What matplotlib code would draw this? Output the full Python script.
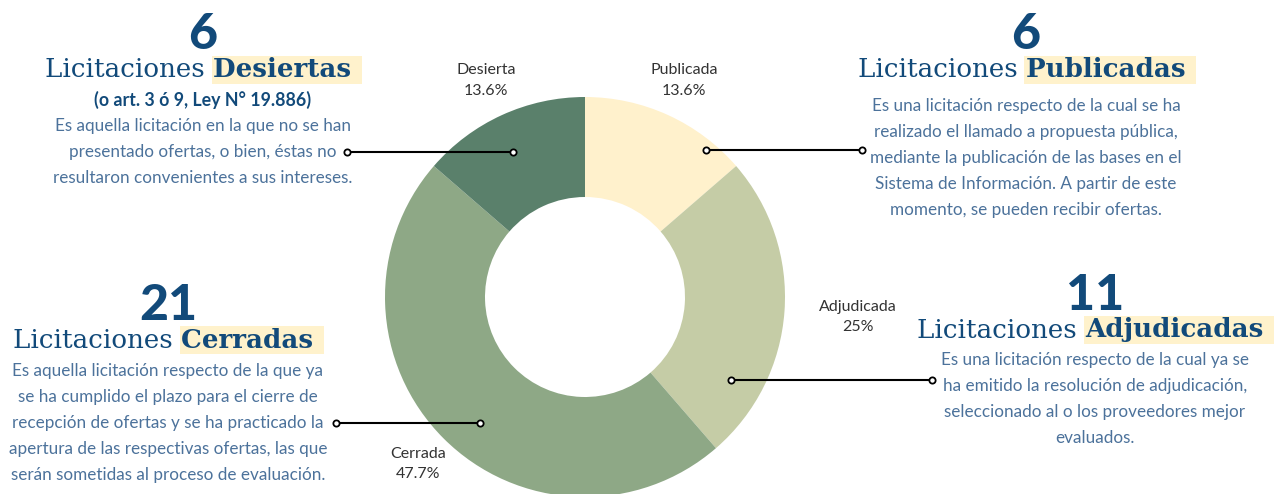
import numpy as np
import matplotlib
matplotlib.use("Agg")
import matplotlib.pyplot as plt

# data
states = ["Publicada", "Adjudicada", "Cerrada", "Desierta"]
counts = [6, 11, 21, 6]
pcts = ["13.6%", "25%", "47.7%", "13.6%"]
colors = ["#FFF1CC", "#C5CCA6", "#8EA886", "#5A806B"]

titles = ["Publicadas", "Adjudicadas", "Cerradas", "Desiertas"]
subtitles = ["", "", "", "(o art. 3 ó 9, Ley N° 19.886)"]
descs = [
    "Es una licitación respecto de la cual se ha\nrealizado el llamado a propuesta pública,\nmediante la publicación de las bases en el\nSistema de Información. A partir de este\nmomento, se pueden recibir ofertas.",
    "Es una licitación respecto de la cual ya se\nha emitido la resolución de adjudicación,\nseleccionado al o los proveedores mejor\nevaluados.",
    "Es aquella licitación respecto de la que ya\nse ha cumplido el plazo para el cierre de\nrecepción de ofertas y se ha practicado la\napertura de las respectivas ofertas, las que\nserán sometidas al proceso de evaluación.",
    "Es aquella licitación en la que no se han\npresentado ofertas, o bien, éstas no\nresultaron convenientes a sus intereses.",
]

W, H = 1276, 494
DARK = "#124A7A"
LIGHT = "#4C729B"

fig = plt.figure(figsize=(W / 100, H / 100), dpi=100)
ax = fig.add_axes([0, 0, 1, 1])

cx, cy, R = 585, H - 297, 200
wedges, _ = ax.pie(counts, colors=colors, startangle=90, counterclock=False,
                   radius=R, center=(cx, cy), wedgeprops=dict(width=R * 0.5, linewidth=0))
ax.set_xlim(0, W)
ax.set_ylim(0, H)
ax.set_aspect("equal")
ax.axis("off")

# slice labels
label_dist = [1.19, 1.37, 1.18, 1.19]
for w, name, p, d in zip(wedges, states, pcts, label_dist):
    a = np.deg2rad((w.theta1 + w.theta2) / 2)
    ax.text(cx + R * d * np.cos(a), cy + R * d * np.sin(a), name + "\n" + p,
            ha="center", va="center", fontsize=11.5, color="#333333",
            family="Lato", linespacing=1.55)

# leader lines (pixel layout)
leaders = [((706, 150), (862, 150)), ((731, 380), (932, 380)),
           ((480, 423), (336, 423)), ((513, 152), (347, 152))]
for (x0, y0), (x1, y1) in leaders:
    ax.plot([x0, x1], [H - y0, H - y1], color="black", lw=1.5, marker="o",
            ms=4.5, mfc="white", mec="black", mew=1.3)

# text blocks: (center x, number y, title y, first desc line y)
blocks = [(1026, 35, 70, 106), (1095, 296, 330, 360),
          (168, 305, 340, 371), (203, 35, 70, 126)]
renderer = fig.canvas.get_renderer()
for (bx, ny, ty, dy), n, t, s, desc in zip(blocks, counts, titles, subtitles, descs):
    ax.text(bx, H - ny, str(n), ha="center", va="center", fontsize=36,
            fontweight="black", family="Lato", color=DARK)
    t1 = ax.text(0, H - ty, "Licitaciones ", ha="left", va="center",
                 fontsize=18.8, family="DejaVu Serif", color=DARK)
    t2 = ax.text(0, H - ty, t + " ", ha="left", va="center", fontsize=18.8,
                 family="DejaVu Serif", fontweight="bold", color=DARK,
                 bbox=dict(boxstyle="square,pad=0.05", fc="#FFF2CC", ec="none"))
    w1 = t1.get_window_extent(renderer).width
    w2 = t2.get_window_extent(renderer).width
    x0 = bx - (w1 + w2) / 2
    t1.set_x(x0)
    t2.set_x(x0 + w1)
    if s:
        ax.text(bx, H - 100, s, ha="center", va="center", fontsize=12.8,
                fontweight="bold", family="Lato", color=DARK)
    nl = desc.count("\n")
    ax.text(bx, H - (dy + nl * 26 / 2), desc, ha="center", va="center",
            fontsize=12.3, family="Lato", color=LIGHT, linespacing=1.76)

fig.savefig("out.png", dpi=100)
